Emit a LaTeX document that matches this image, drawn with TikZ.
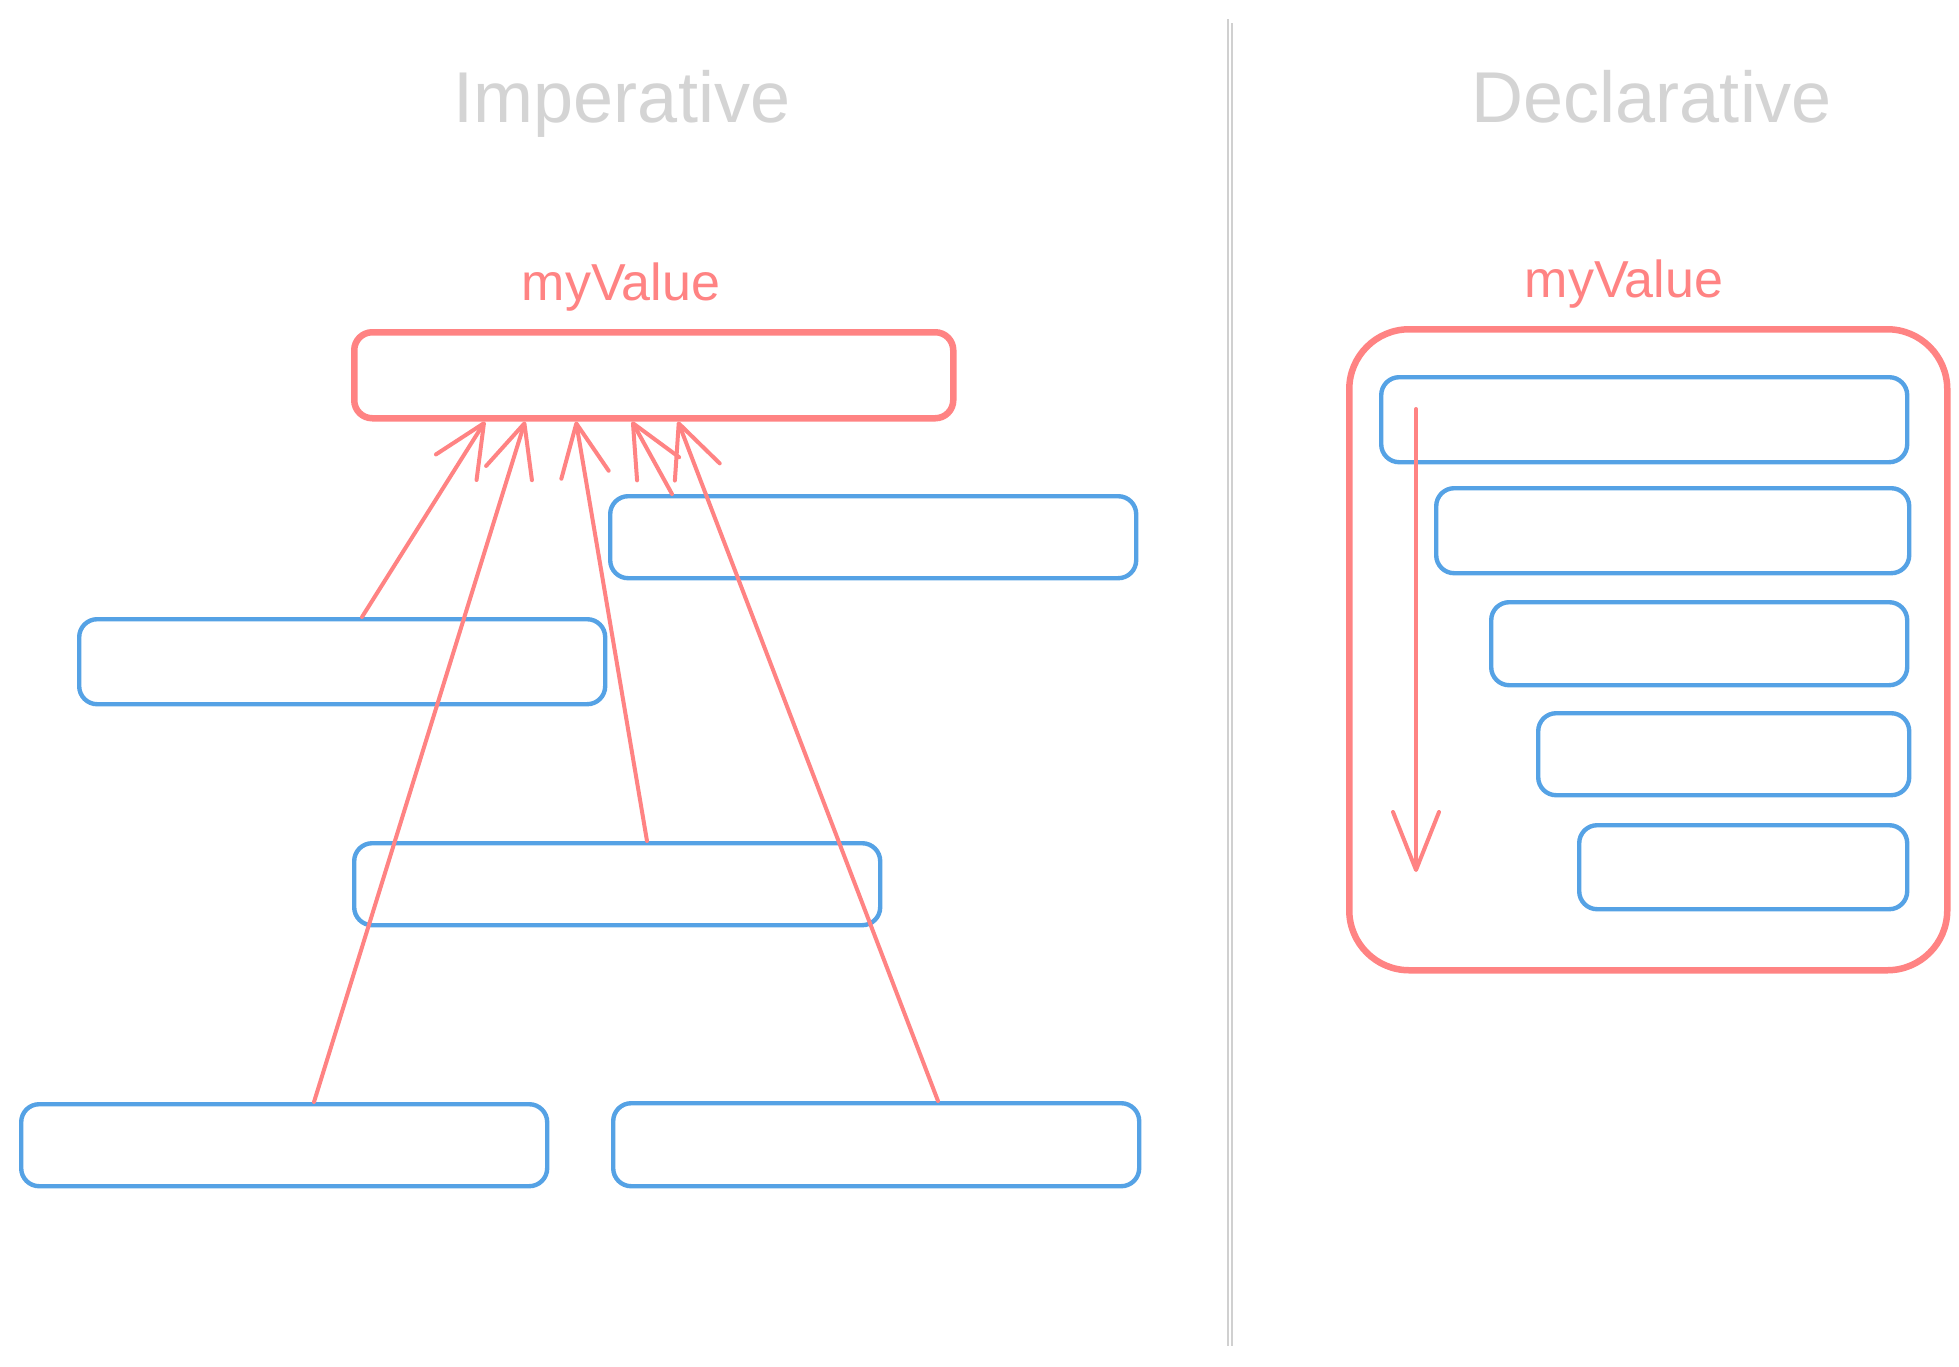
\documentclass[tikz,border=0pt]{standalone}
\usepackage{fontspec}
\setmainfont{Liberation Sans}
\usetikzlibrary{arrows.meta}
\definecolor{salmon}{HTML}{FF8383}
\definecolor{skyb}{HTML}{55A2E5}
\definecolor{titlegray}{HTML}{D4D4D4}
\definecolor{divgray}{HTML}{D0D0D0}
\begin{document}
\begin{tikzpicture}[x=1pt,y=-1pt,
  blk/.style={draw=skyb,line width=4.4pt,rounded corners=18pt,inner sep=0pt,anchor=north west},
  redbox/.style={draw=salmon,line width=6.5pt,rounded corners=#1,inner sep=0pt,anchor=north west},
  arr/.style={draw=salmon,line width=4pt,line cap=round,line join=round,
    -{Straight Barb[length=52pt,width=48pt,line cap=round,line join=round]}},
  titletext/.style={text=titlegray,font=\fontsize{72}{86}\selectfont,anchor=base,inner sep=0pt},
  handtext/.style={text=salmon,font=\fontsize{52}{62}\selectfont,anchor=base,inner sep=0pt}
]
\useasboundingbox[fill=white] (0,0) rectangle (1959,1366);

% titles
\node[titletext] (imp) at (622,122) {Imperative};
\node[titletext] (dec) at (1652,122) {Declarative};

% divider
\draw[divgray,line width=1.6pt] (1228,19) -- (1228,1346);
\draw[divgray,line width=1.6pt] (1232,23) -- (1232,1346);

% ---------- Imperative ----------
\node[handtext] (lblL) at (621,300) {myValue};
\node[redbox=18pt,minimum width=599pt,minimum height=86pt] (R) at (351,329) {};

\node[blk,minimum width=526pt,minimum height=82pt] (A) at (608,494) {};
\node[blk,minimum width=526pt,minimum height=85pt] (B) at (77,617) {};
\node[blk,minimum width=526pt,minimum height=82pt] (C) at (352,841) {};
\node[blk,minimum width=526pt,minimum height=82pt] (D) at (19,1102) {};
\node[blk,minimum width=526pt,minimum height=83pt] (E) at (611,1101) {};

\draw[arr] ([xshift=285pt]B.north west) -- ([xshift=134pt]R.south west);
\draw[arr] ([xshift=295pt]D.north west) -- ([xshift=174pt]R.south west);
\draw[arr] ([xshift=295pt]C.north west) -- ([xshift=225pt]R.south west);
\draw[arr] ([xshift=64pt]A.north west) -- ([xshift=281pt]R.south west);
\draw[arr] ([xshift=327pt]E.north west) -- ([xshift=327pt]R.south west);

% ---------- Declarative ----------
\node[handtext] (lblR) at (1624,297) {myValue};
\node[redbox=60pt,minimum width=598pt,minimum height=641pt] (Q) at (1346,326) {};

\node[blk,minimum width=526pt,minimum height=85pt] (I1) at (1379,375) {};
\node[blk,minimum width=473pt,minimum height=85pt] (I2) at (1434,486) {};
\node[blk,minimum width=416pt,minimum height=83pt] (I3) at (1489,600) {};
\node[blk,minimum width=371pt,minimum height=82pt] (I4) at (1536,711) {};
\node[blk,minimum width=328pt,minimum height=84pt] (I5) at (1577,823) {};

\coordinate (flowstart) at (1416,409);
\coordinate (flowend) at (1416,872);
\draw[arr,-{Straight Barb[length=58pt,width=46pt,line cap=round,line join=round]}] (flowstart) -- (flowend);
\end{tikzpicture}
\end{document}
